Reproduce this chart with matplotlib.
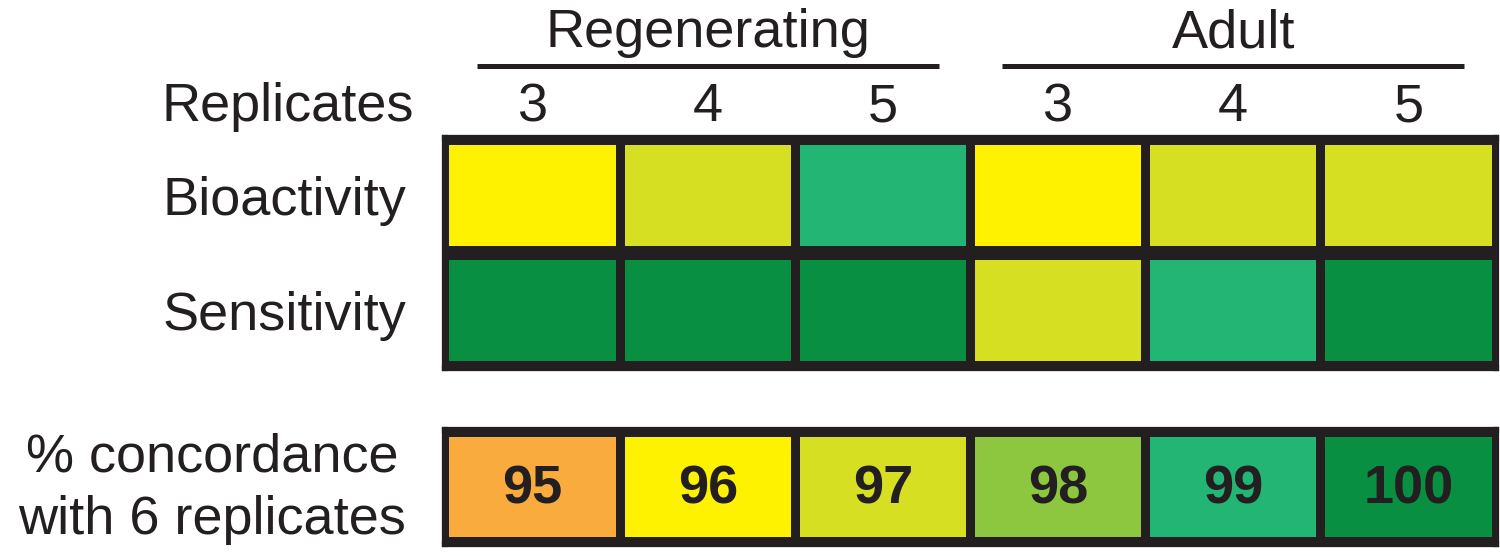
import numpy as np
import matplotlib.pyplot as plt
import matplotlib.transforms as mtransforms

groups = ['Regenerating', 'Adult']
replicates = ['3', '4', '5', '3', '4', '5']
rows = ['Bioactivity', 'Sensitivity']
bioactivity = [96, 97, 99, 96, 97, 97]
sensitivity = [100, 100, 100, 97, 99, 100]
scale_values = [95, 96, 97, 98, 99, 100]
scale_colors = ['#F9AC3D', '#FFF200', '#D7DF23', '#8DC63F', '#23B574', '#088F42']

plt.rcParams['font.family'] = ['Liberation Sans', 'DejaVu Sans']
dark = '#231F20'
fs = 39
color_of = dict(zip(scale_values, scale_colors))

W, H = 1500, 556
fig = plt.figure(figsize=(15, 5.56), dpi=100)


def px_axes(x0, y0, x1, y1):
    return fig.add_axes([x0 / W, 1 - y1 / H, (x1 - x0) / W, (y1 - y0) / H])


def style_box(a):
    a.set_facecolor(dark)
    for s in a.spines.values():
        s.set_color(dark)
        s.set_linewidth(4.5)
    a.tick_params(length=0)


# heatmap
ax = px_axes(445, 138, 1496, 368)
style_box(ax)
cols = np.arange(len(replicates))
for r, vals in enumerate([bioactivity, sensitivity]):
    ax.bar(cols, 0.88, bottom=r - 0.44, width=0.95,
           color=[color_of[v] for v in vals], linewidth=0)
ax.set_xlim(-0.5, 5.5)
ax.set_ylim(1.5, -0.5)
ax.set_xticks([])
ax.set_yticks([0, 1], rows, fontsize=fs, color=dark)
ax.tick_params(axis='y', pad=28)

# column header
trans = mtransforms.blended_transform_factory(ax.transData, fig.transFigure)
fig.text(414 / W, 1 - 121 / H, 'Replicates', ha='right', va='baseline',
         fontsize=fs, color=dark)
for c, lab in zip(cols, replicates):
    ax.text(c, 1 - 121 / H, lab, ha='center', va='baseline', fontsize=fs,
            color=dark, transform=trans)
for g, name in enumerate(groups):
    mid = 1 + 3 * g
    ax.plot([mid - 1.32, mid + 1.32], [1 - 66 / H] * 2, color=dark, lw=3.6,
            transform=trans, clip_on=False, solid_capstyle='butt')
    ax.text(mid, 1 - 47 / H, name, ha='center', va='baseline', fontsize=fs,
            color=dark, transform=trans)

# colour scale
lax = px_axes(445, 430, 1496, 544)
style_box(lax)
lcols = np.arange(len(scale_values))
lax.bar(lcols, 0.88, bottom=-0.44, width=0.95, color=scale_colors, linewidth=0)
for c, v in zip(lcols, scale_values):
    lax.text(c, 0.02, str(v), ha='center', va='center', fontsize=39,
             fontweight='bold', color=dark)
lax.set_xlim(-0.5, 5.5)
lax.set_ylim(0.5, -0.5)
lax.set_xticks([])
lax.set_yticks([])
fig.text(406 / W, 1 - 489 / H, '% concordance\nwith 6 replicates', ha='right',
         va='center', ma='center', fontsize=fs, color=dark, linespacing=1.32)

fig.savefig('out.png', dpi=100)
